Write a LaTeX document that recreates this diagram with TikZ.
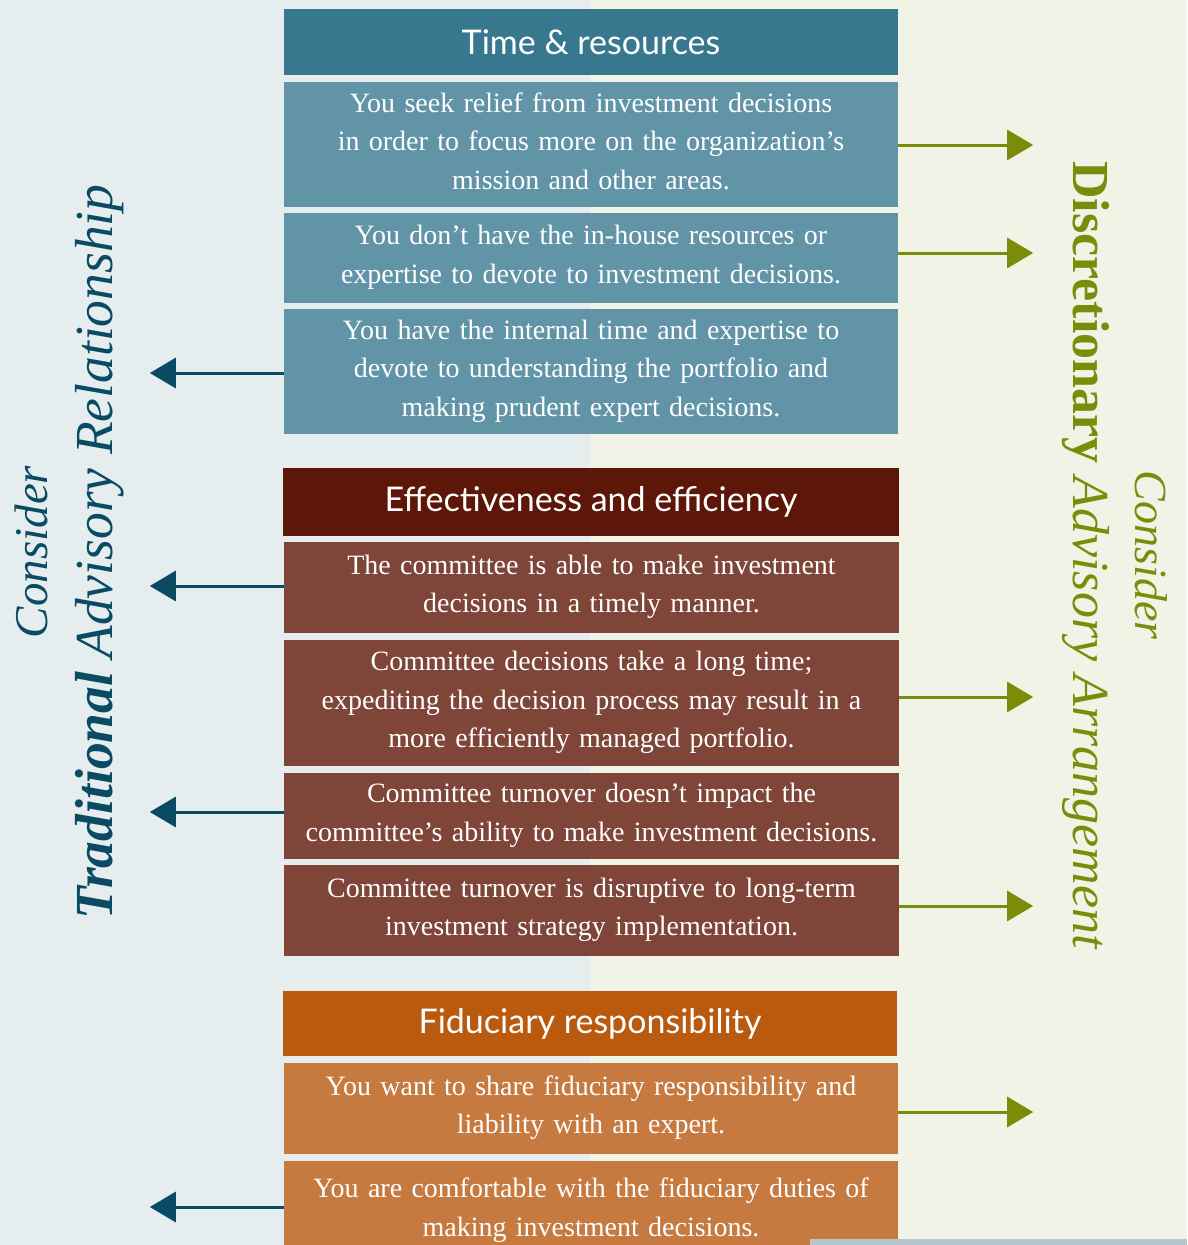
\documentclass[tikz,border=0pt]{standalone}
\usepackage{fontspec}
\setmainfont{Liberation Serif}
\newfontfamily\hdrfont{Lato}
\newfontfamily\sidefont{Liberation Serif}
\usetikzlibrary{arrows.meta}
\definecolor{bgL}{HTML}{E5EDEE}
\definecolor{bgR}{HTML}{F1F3E7}
\definecolor{hA}{HTML}{37788F}
\definecolor{cA}{HTML}{6294A8}
\definecolor{hB}{HTML}{5C1708}
\definecolor{cB}{HTML}{7E4538}
\definecolor{hC}{HTML}{B95A0E}
\definecolor{cC}{HTML}{C67A40}
\definecolor{tealc}{HTML}{0A4B63}
\definecolor{olivec}{HTML}{7A8C0A}
\definecolor{barc}{HTML}{B2C8CE}
\newcommand{\topst}{\rule{0pt}{20pt}}
\newcommand{\botst}{\rule[-8pt]{0pt}{8pt}}
\tikzset{
  box/.style={inner sep=0pt, minimum width=614pt, text width=606pt, align=center, text=white,
    font=\fontsize{28}{38.5}\selectfont},
  hdr/.style={inner sep=0pt, minimum width=614pt, text=white, font=\hdrfont\fontsize{34}{40}\selectfont},
  rarr/.style={draw=olivec, line width=3pt, -{Triangle[length=26pt,width=30pt]}},
  larr/.style={draw=tealc, line width=3pt, -{Triangle[length=26pt,width=30pt]}},
  vtext/.style={anchor=base, inner sep=0pt}
}
\begin{document}
\begin{tikzpicture}[x=1pt,y=-1pt]
\useasboundingbox (0,0) rectangle (1187,1245);
\clip (0,0) rectangle (1187,1245);
\fill[bgL] (0,0) rectangle (590,1245);
\fill[bgR] (590,0) rectangle (1187,1245);

% Time & resources
\node[hdr, fill=hA, minimum height=66pt] (h1) at (591,42) {Time \& resources};
\node[box, fill=cA, minimum height=125pt] (b1) at (591,144.5) {\topst You seek relief from investment decisions\\ in order to focus more on the organization’s\\ mission and other areas.\botst};
\node[box, fill=cA, minimum height=90pt] (b2) at (591,258) {\topst You don’t have the in-house resources or\\ expertise to devote to investment decisions.\botst};
\node[box, fill=cA, minimum height=125pt] (b3) at (591,371.5) {\topst You have the internal time and expertise to\\ devote to understanding the portfolio and\\ making prudent expert decisions.\botst};

% Effectiveness and efficiency
\node[hdr, fill=hB, minimum height=68pt, minimum width=616pt] (h2) at (591,502) {Effectiveness and efficiency};
\node[box, fill=cB, minimum height=91pt, minimum width=615pt] (b4) at (591.5,587.5) {\topst The committee is able to make investment\\ decisions in a timely manner.\botst};
\node[box, fill=cB, minimum height=126pt, minimum width=615pt] (b5) at (591.5,703) {\topst Committee decisions take a long time;\\ expediting the decision process may result in a\\ more efficiently managed portfolio.\botst};
\node[box, fill=cB, minimum height=86pt, minimum width=615pt] (b6) at (591.5,816) {\topst Committee turnover doesn’t impact the\\ committee’s ability to make investment decisions.\botst};
\node[box, fill=cB, minimum height=91pt, minimum width=615pt] (b7) at (591.5,910.5) {\topst Committee turnover is disruptive to long-term\\ investment strategy implementation.\botst};

% Fiduciary responsibility
\node[hdr, fill=hC, minimum height=65pt] (h3) at (590,1023.5) {Fiduciary responsibility};
\node[box, fill=cC, minimum height=91pt] (b8) at (591,1108.5) {\topst You want to share fiduciary responsibility and\\ liability with an expert.\botst};
\node[box, fill=cC, minimum height=100pt] (b9) at (591,1211) {\topst You are comfortable with the fiduciary duties of\\ making investment decisions.\botst};

% arrows
\draw[rarr] ([yshift=-0.5pt]b1.east) -- ++(135,0);
\draw[rarr] ([yshift=5pt]b2.east) -- ++(135,0);
\draw[larr] ([yshift=-1.5pt]b3.west) -- ++(-134,0);
\draw[larr] ([yshift=1.5pt]b4.west) -- ++(-134,0);
\draw[rarr] ([yshift=6pt]b5.east) -- ++(134,0);
\draw[larr] ([yshift=4pt]b6.west) -- ++(-134,0);
\draw[rarr] ([yshift=4.5pt]b7.east) -- ++(134,0);
\draw[rarr] ([yshift=-3.5pt]b8.east) -- ++(135,0);
\draw[larr] ([yshift=4pt]b9.west) -- ++(-134,0);

% vertical labels
\node[vtext, rotate=90, text=tealc, font=\sidefont\fontsize{47}{47}\selectfont\itshape] (cL) at (47,552) {Consider};
\node[vtext, rotate=90, text=tealc, font=\sidefont\fontsize{53.5}{53.5}\selectfont\itshape] (tL) at (112,552) {\textbf{Traditional} Advisory Relationship};
\node[vtext, rotate=-90, text=olivec, font=\sidefont\fontsize{46}{46}\selectfont\itshape] (cR) at (1135,555) {Consider};
\node[vtext, rotate=-90, text=olivec, font=\sidefont\fontsize{52}{52}\selectfont\itshape] (dR) at (1073,555) {\textbf{\upshape Discretionary} Advisory Arrangement};

\fill[barc] (810,1239) rectangle (1187,1245);
\end{tikzpicture}
\end{document}
